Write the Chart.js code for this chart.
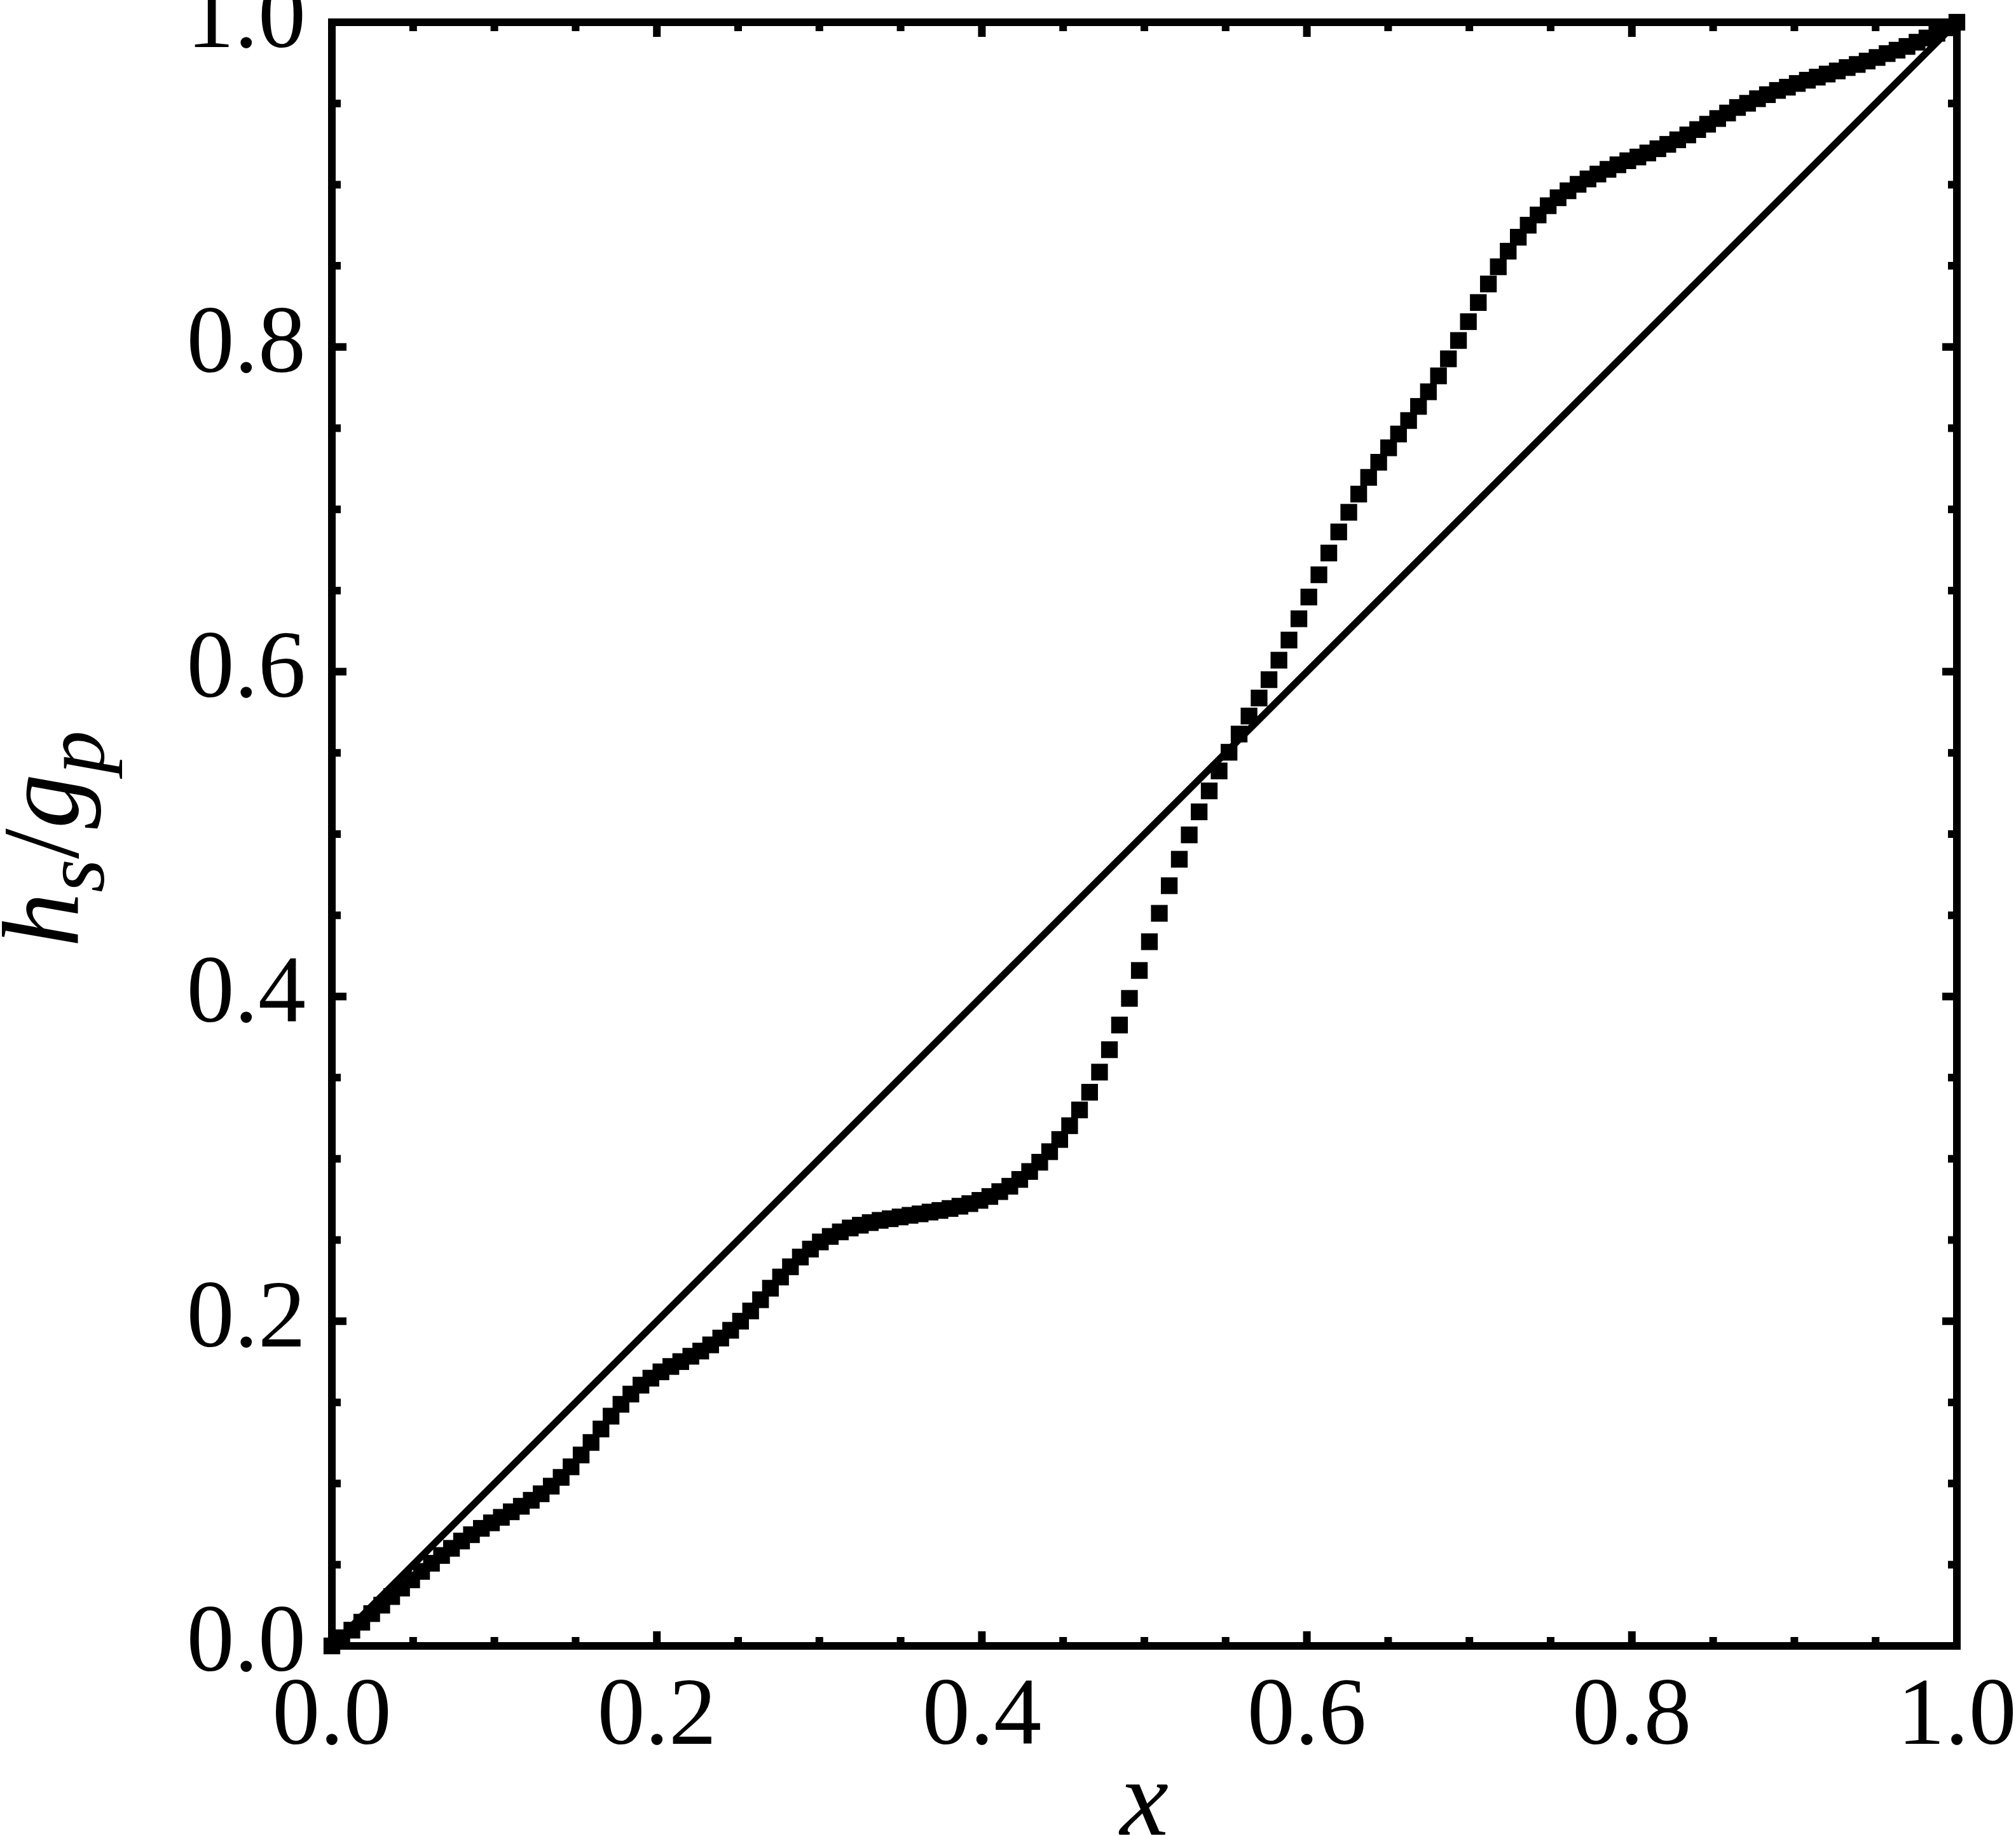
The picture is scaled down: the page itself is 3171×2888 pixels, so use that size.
<!DOCTYPE html>
<html>
<head>
<meta charset="utf-8">
<script src="https://cdn.jsdelivr.net/npm/chart.js@4.4.1/dist/chart.umd.min.js"></script>
<style>
  html, body { margin: 0; padding: 0; background: #fff; }
  .probe { font-family: "Liberation Serif"; position: absolute; left: -9999px; }
</style>
</head>
<body>
<span class="probe">0.1 <i>hsgpx</i></span>
<canvas id="hsgpChart" width="3171" height="2888"></canvas>
<script>
// sample positions along x
const xValues = [
  0.0000, 0.0061, 0.0123, 0.0184, 0.0245, 0.0307, 0.0368, 0.0429, 0.0491, 0.0552,
  0.0613, 0.0675, 0.0736, 0.0798, 0.0859, 0.0920, 0.0982, 0.1043, 0.1104, 0.1166,
  0.1227, 0.1288, 0.1350, 0.1411, 0.1472, 0.1534, 0.1595, 0.1656, 0.1718, 0.1779,
  0.1840, 0.1902, 0.1963, 0.2025, 0.2086, 0.2147, 0.2209, 0.2270, 0.2331, 0.2393,
  0.2454, 0.2515, 0.2577, 0.2638, 0.2699, 0.2761, 0.2822, 0.2883, 0.2945, 0.3006,
  0.3067, 0.3129, 0.3190, 0.3252, 0.3313, 0.3374, 0.3436, 0.3497, 0.3558, 0.3620,
  0.3681, 0.3742, 0.3804, 0.3865, 0.3926, 0.3988, 0.4049, 0.4110, 0.4172, 0.4233,
  0.4294, 0.4356, 0.4417, 0.4479, 0.4540, 0.4601, 0.4663, 0.4724, 0.4785, 0.4847,
  0.4908, 0.4969, 0.5031, 0.5092, 0.5153, 0.5215, 0.5276, 0.5337, 0.5399, 0.5460,
  0.5521, 0.5583, 0.5644, 0.5706, 0.5767, 0.5828, 0.5890, 0.5951, 0.6012, 0.6074,
  0.6135, 0.6196, 0.6258, 0.6319, 0.6380, 0.6442, 0.6503, 0.6564, 0.6626, 0.6687,
  0.6748, 0.6810, 0.6871, 0.6933, 0.6994, 0.7055, 0.7117, 0.7178, 0.7239, 0.7301,
  0.7362, 0.7423, 0.7485, 0.7546, 0.7607, 0.7669, 0.7730, 0.7791, 0.7853, 0.7914,
  0.7975, 0.8037, 0.8098, 0.8160, 0.8221, 0.8282, 0.8344, 0.8405, 0.8466, 0.8528,
  0.8589, 0.8650, 0.8712, 0.8773, 0.8834, 0.8896, 0.8957, 0.9018, 0.9080, 0.9141,
  0.9202, 0.9264, 0.9325, 0.9387, 0.9448, 0.9509, 0.9571, 0.9632, 0.9693, 0.9755,
  0.9816, 0.9877, 0.9939, 1.0000
];

// h_s / g_p, one value per marker
const hsgpValues = [
  0.0000, 0.0050, 0.0097, 0.0146, 0.0199, 0.0251, 0.0304, 0.0356, 0.0407, 0.0459,
  0.0509, 0.0557, 0.0601, 0.0646, 0.0685, 0.0724, 0.0758, 0.0792, 0.0826, 0.0860,
  0.0897, 0.0937, 0.0984, 0.1038, 0.1103, 0.1176, 0.1253, 0.1336, 0.1415, 0.1488,
  0.1551, 0.1606, 0.1649, 0.1688, 0.1721, 0.1751, 0.1784, 0.1816, 0.1854, 0.1896,
  0.1944, 0.2000, 0.2063, 0.2132, 0.2203, 0.2272, 0.2335, 0.2395, 0.2444, 0.2488,
  0.2522, 0.2550, 0.2574, 0.2591, 0.2607, 0.2621, 0.2631, 0.2642, 0.2652, 0.2661,
  0.2672, 0.2682, 0.2694, 0.2708, 0.2724, 0.2744, 0.2768, 0.2798, 0.2831, 0.2873,
  0.2922, 0.2979, 0.3044, 0.3119, 0.3204, 0.3301, 0.3410, 0.3534, 0.3672, 0.3824,
  0.3988, 0.4160, 0.4337, 0.4512, 0.4682, 0.4845, 0.4995, 0.5137, 0.5266, 0.5389,
  0.5504, 0.5616, 0.5727, 0.5838, 0.5951, 0.6071, 0.6195, 0.6326, 0.6460, 0.6597,
  0.6731, 0.6861, 0.6982, 0.7094, 0.7197, 0.7290, 0.7379, 0.7464, 0.7547, 0.7634,
  0.7724, 0.7822, 0.7927, 0.8040, 0.8156, 0.8274, 0.8388, 0.8494, 0.8590, 0.8676,
  0.8750, 0.8813, 0.8870, 0.8919, 0.8962, 0.9002, 0.9035, 0.9065, 0.9094, 0.9122,
  0.9147, 0.9170, 0.9195, 0.9221, 0.9248, 0.9276, 0.9306, 0.9339, 0.9372, 0.9407,
  0.9441, 0.9475, 0.9501, 0.9529, 0.9554, 0.9580, 0.9600, 0.9623, 0.9643, 0.9662,
  0.9681, 0.9700, 0.9721, 0.9740, 0.9761, 0.9783, 0.9807, 0.9828, 0.9851, 0.9877,
  0.9903, 0.9932, 0.9966, 1.0000
];

// reference line y = x
const diagonalX = [0, 1];
const diagonalY = [0, 1];

const majorTicks = [0, 0.2, 0.4, 0.6, 0.8, 1.0];
const minorTicks = [0.05, 0.1, 0.15, 0.25, 0.3, 0.35, 0.45, 0.5, 0.55, 0.65, 0.7, 0.75, 0.85, 0.9, 0.95];

const xTitle = "x";
const yTitleParts = [
  { text: "h", sub: false, italic: true },
  { text: "s", sub: true, italic: true },
  { text: "/", sub: false, italic: false },
  { text: "g", sub: false, italic: true },
  { text: "p", sub: true, italic: true }
];

const SERIF = '"Liberation Serif", "Times New Roman", Times, serif';

// box round the plot, ticks pointing inward on all four sides
const frameAndTicks = {
  id: "frameAndTicks",
  beforeDatasetsDraw(chart) {
    const { ctx, chartArea: a, scales: { x, y } } = chart;
    ctx.save();
    ctx.strokeStyle = "#000";
    ctx.lineWidth = 12;
    ctx.strokeRect(a.left, a.top, a.right - a.left, a.bottom - a.top);

    const tick = (v, len) => {
      const px = x.getPixelForValue(v);
      const py = y.getPixelForValue(v);
      ctx.beginPath();
      ctx.moveTo(px, a.bottom); ctx.lineTo(px, a.bottom - len);
      ctx.moveTo(px, a.top);    ctx.lineTo(px, a.top + len);
      ctx.moveTo(a.left, py);   ctx.lineTo(a.left + len, py);
      ctx.moveTo(a.right, py);  ctx.lineTo(a.right - len, py);
      ctx.stroke();
    };
    majorTicks.forEach(v => tick(v, 23));
    minorTicks.forEach(v => tick(v, 14));
    ctx.restore();
  }
};

// axis titles (y title needs subscripts, so drawn by hand)
const axisTitles = {
  id: "axisTitles",
  afterDraw(chart) {
    const { ctx, chartArea: a } = chart;
    ctx.save();
    ctx.fillStyle = "#000";
    ctx.textBaseline = "alphabetic";

    ctx.font = "italic 172px " + SERIF;
    ctx.textAlign = "center";
    ctx.fillText(xTitle, (a.left + a.right) / 2, a.bottom + 297);

    const yMid = (a.top + a.bottom) / 2;
    ctx.translate(a.left - 400, yMid + 178);
    ctx.rotate(-Math.PI / 2);
    ctx.textAlign = "left";
    let pos = 0;
    yTitleParts.forEach(p => {
      const size = p.sub ? 136 : 172;
      ctx.font = (p.italic ? "italic " : "") + size + "px " + SERIF;
      ctx.fillText(p.text, pos, p.sub ? 41 : 0);
      pos += ctx.measureText(p.text).width;
    });
    ctx.restore();
  }
};

// fixed plot box: no extra room for the end labels
function noPadding(scale) {
  scale.paddingTop = 0;
  scale.paddingBottom = 0;
  scale.paddingLeft = 0;
  scale.paddingRight = 0;
}

const tickFont = { family: SERIF, size: 150 };

function drawChart() {
  new Chart(document.getElementById("hsgpChart").getContext("2d"), {
    type: "scatter",
    data: {
      datasets: [
        {
          label: "h_s/g_p",
          data: xValues.map((x, i) => ({ x: x, y: hsgpValues[i] })),
          pointStyle: "rect",
          pointRadius: 18.6,
          pointBackgroundColor: "#000",
          pointBorderWidth: 0,
          showLine: false,
          clip: false
        },
        {
          type: "line",
          label: "y = x",
          data: diagonalX.map((x, i) => ({ x: x, y: diagonalY[i] })),
          borderColor: "#000",
          borderWidth: 11,
          pointRadius: 0,
          fill: false
        }
      ]
    },
    options: {
      responsive: false,
      animation: false,
      events: [],
      devicePixelRatio: 1,
      layout: {
        autoPadding: false,
        padding: { top: 35, right: 93, bottom: 0, left: 0 }
      },
      plugins: {
        legend: { display: false },
        tooltip: { enabled: false }
      },
      scales: {
        x: {
          type: "linear",
          min: 0,
          max: 1,
          afterFit(scale) { scale.height = 299; noPadding(scale); },
          grid: { display: false, drawTicks: false },
          border: { display: false },
          ticks: {
            stepSize: 0.2,
            padding: 25,
            autoSkip: false,
            maxRotation: 0,
            color: "#000",
            font: tickFont,
            callback: v => v.toFixed(1)
          }
        },
        y: {
          type: "linear",
          min: 0,
          max: 1,
          afterFit(scale) { scale.width = 522; noPadding(scale); },
          grid: { display: false, drawTicks: false },
          border: { display: false },
          ticks: {
            stepSize: 0.2,
            padding: 41,
            autoSkip: false,
            color: "#000",
            font: tickFont,
            callback: v => v.toFixed(1)
          }
        }
      }
    },
    plugins: [frameAndTicks, axisTitles]
  });
}

Promise.all([
  document.fonts.load('150px "Liberation Serif"'),
  document.fonts.load('italic 172px "Liberation Serif"')
]).catch(() => {}).then(drawChart);
</script>
</body>
</html>
